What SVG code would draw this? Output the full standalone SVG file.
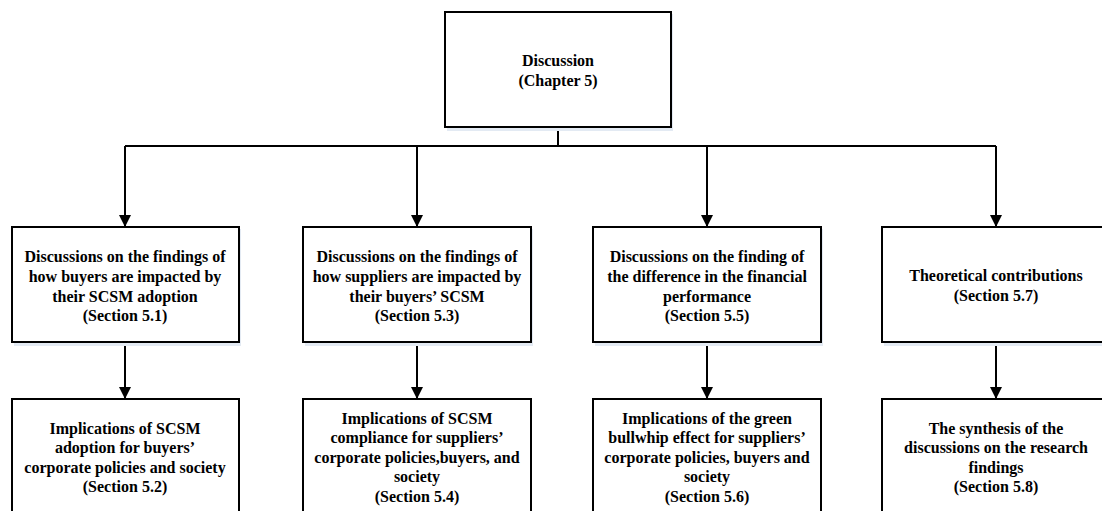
<svg xmlns="http://www.w3.org/2000/svg" width="1102" height="511" viewBox="0 0 1102 511">
<style>
.box{fill:#fff;stroke:#000;stroke-width:2}
.sh{fill:#e3eaf3}
.t{font-family:"Liberation Serif",serif;font-weight:bold;font-size:16px;text-anchor:middle;fill:#000}
.c{fill:none;stroke:#000;stroke-width:2}
</style>
<defs>
<marker id="ah" markerWidth="12" markerHeight="12" refX="11" refY="6" orient="auto" markerUnits="userSpaceOnUse">
<path d="M0,0 L12,6 L0,12 Z" fill="#000"/>
</marker>
</defs>
<rect width="1102" height="511" fill="#fff"/>
<g id="connectors">
<path class="c" d="M558,128 V146"/>
<path class="c" d="M125,146 H996"/>
<path class="c" d="M125,146 V226" marker-end="url(#ah)"/>
<path class="c" d="M417,146 V226" marker-end="url(#ah)"/>
<path class="c" d="M707,146 V226" marker-end="url(#ah)"/>
<path class="c" d="M996,146 V226" marker-end="url(#ah)"/>
<path class="c" d="M125,343 V398" marker-end="url(#ah)"/>
<path class="c" d="M417,343 V398" marker-end="url(#ah)"/>
<path class="c" d="M707,343 V398" marker-end="url(#ah)"/>
<path class="c" d="M996,343 V398" marker-end="url(#ah)"/>
</g>
<g id="n0">
<rect class="sh" x="447" y="14" width="226" height="117"/>
<rect class="box" x="445" y="12" width="226" height="115"/>
<text class="t" x="558" y="66">Discussion</text>
<text class="t" x="558" y="86">(Chapter 5)</text>
</g>
<g id="n1">
<rect class="sh" x="14" y="229" width="227" height="117"/>
<rect class="box" x="12" y="227" width="227" height="115"/>
<text class="t" x="125" y="262">Discussions on the findings of</text>
<text class="t" x="125" y="282">how buyers are impacted by</text>
<text class="t" x="125" y="302">their SCSM adoption</text>
<text class="t" x="125" y="321">(Section 5.1)</text>
</g>
<g id="n2">
<rect class="sh" x="305" y="229" width="228" height="117"/>
<rect class="box" x="303" y="227" width="228" height="115"/>
<text class="t" x="417" y="262">Discussions on the findings of</text>
<text class="t" x="417" y="282">how suppliers are impacted by</text>
<text class="t" x="417" y="302">their buyers’ SCSM</text>
<text class="t" x="417" y="321">(Section 5.3)</text>
</g>
<g id="n3">
<rect class="sh" x="595" y="229" width="228" height="117"/>
<rect class="box" x="593" y="227" width="228" height="115"/>
<text class="t" x="707" y="262">Discussions on the finding of</text>
<text class="t" x="707" y="282">the difference in the financial</text>
<text class="t" x="707" y="302">performance</text>
<text class="t" x="707" y="321">(Section 5.5)</text>
</g>
<g id="n4">
<rect class="sh" x="884" y="229" width="228" height="117"/>
<rect class="box" x="882" y="227" width="228" height="115"/>
<text class="t" x="996" y="281">Theoretical contributions</text>
<text class="t" x="996" y="301">(Section 5.7)</text>
</g>
<g id="n5">
<rect class="box" x="12" y="399" width="227" height="130"/>
<text class="t" x="125" y="434">Implications of SCSM</text>
<text class="t" x="125" y="453">adoption for buyers’</text>
<text class="t" x="125" y="473">corporate policies and society</text>
<text class="t" x="125" y="492">(Section 5.2)</text>
</g>
<g id="n6">
<rect class="box" x="303" y="399" width="228" height="130"/>
<text class="t" x="417" y="424">Implications of SCSM</text>
<text class="t" x="417" y="443">compliance for suppliers’</text>
<text class="t" x="417" y="463">corporate policies,buyers, and</text>
<text class="t" x="417" y="482">society</text>
<text class="t" x="417" y="502">(Section 5.4)</text>
</g>
<g id="n7">
<rect class="box" x="593" y="399" width="228" height="130"/>
<text class="t" x="707" y="424">Implications of the green</text>
<text class="t" x="707" y="443">bullwhip effect for suppliers’</text>
<text class="t" x="707" y="463">corporate policies, buyers and</text>
<text class="t" x="707" y="482">society</text>
<text class="t" x="707" y="502">(Section 5.6)</text>
</g>
<g id="n8">
<rect class="box" x="882" y="399" width="228" height="130"/>
<text class="t" x="996" y="434">The synthesis of the</text>
<text class="t" x="996" y="453">discussions on the research</text>
<text class="t" x="996" y="473">findings</text>
<text class="t" x="996" y="492">(Section 5.8)</text>
</g>
</svg>
